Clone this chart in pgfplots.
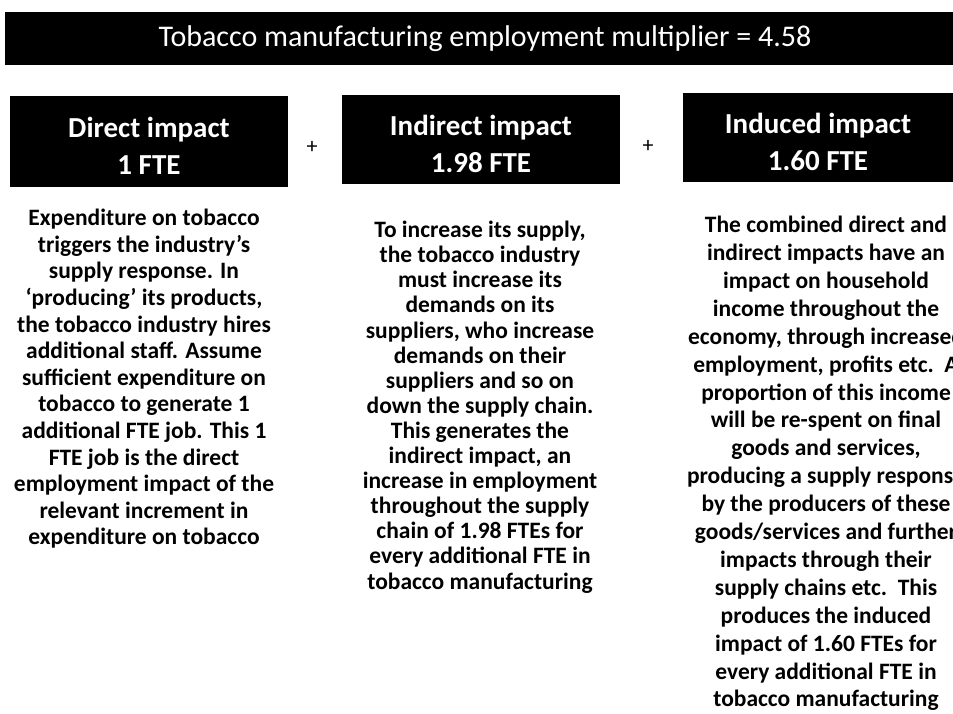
\documentclass[border=0pt]{standalone}
\usepackage{pgfplots}
\pgfplotsset{compat=1.18}
\usepackage{fontspec}
\setmainfont{Carlito}
\begin{document}
\begin{tikzpicture}
\begin{axis}[
  width=953pt, height=714pt, scale only axis,
  xmin=0, xmax=953, ymin=0, ymax=714, y dir=reverse,
  axis lines=none, clip=true, clip mode=global,
]
% header bar
\addplot[fill=black, draw=none] coordinates {(5,12) (953,12) (953,65) (5,65)} -- cycle;
% impact boxes
\addplot[fill=black, draw=none] coordinates {(10,96) (288,96) (288,187) (10,187)} -- cycle;
\addplot[fill=black, draw=none] coordinates {(342,95) (620,95) (620,184) (342,184)} -- cycle;
\addplot[fill=black, draw=none] coordinates {(683,93) (953,93) (953,182) (683,182)} -- cycle;

\node[text=white, font=\fontsize{30}{34}\selectfont] at (axis cs:485,39) {Tobacco manufacturing employment multiplier = 4.58};

\node[text=white, align=center, font=\bfseries\fontsize{29}{37}\selectfont] at (axis cs:149,146) {Direct impact\\1 FTE};
\node[text=white, align=center, font=\bfseries\fontsize{29}{37}\selectfont] at (axis cs:481,144) {Indirect impact\\1.98 FTE};
\node[text=white, align=center, font=\bfseries\fontsize{29}{37}\selectfont] at (axis cs:818,142) {Induced impact\\1.60 FTE};

\node[font=\fontsize{22}{26}\selectfont] at (axis cs:312,147) {+};
\node[font=\fontsize{22}{26}\selectfont] at (axis cs:648,146) {+};

\node[anchor=north, align=center, inner sep=0pt, font=\bfseries\fontsize{23.5}{26.6}\selectfont] at (axis cs:144,209) {%
Expenditure on tobacco\\triggers the industry's\\supply response. In\\`producing' its products,\\the tobacco industry hires\\additional staff. Assume\\sufficient expenditure on\\tobacco to generate 1\\additional FTE job. This 1\\FTE job is the direct\\employment impact of the\\relevant increment in\\expenditure on tobacco};

\node[anchor=north, align=center, inner sep=0pt, font=\bfseries\fontsize{23.5}{25.1}\selectfont] at (axis cs:480,221) {%
To increase its supply,\\the tobacco industry\\must increase its\\demands on its\\suppliers, who increase\\demands on their\\suppliers and so on\\down the supply chain.\\This generates the\\indirect impact, an\\increase in employment\\throughout the supply\\chain of 1.98 FTEs for\\every additional FTE in\\tobacco manufacturing};

\node[anchor=north, align=center, inner sep=0pt, font=\bfseries\fontsize{23.5}{27.9}\selectfont] at (axis cs:826,216) {%
The combined direct and\\indirect impacts have an\\impact on household\\income throughout the\\economy, through increased\\employment, profits etc.\ \ A\\proportion of this income\\will be re-spent on final\\goods and services,\\producing a supply response\\by the producers of these\\goods/services and further\\impacts through their\\supply chains etc.\ \ This\\produces the induced\\impact of 1.60 FTEs for\\every additional FTE in\\tobacco manufacturing};
\end{axis}
\pgfresetboundingbox
\useasboundingbox (current axis.south west) rectangle (current axis.north east);
\end{tikzpicture}
\end{document}
